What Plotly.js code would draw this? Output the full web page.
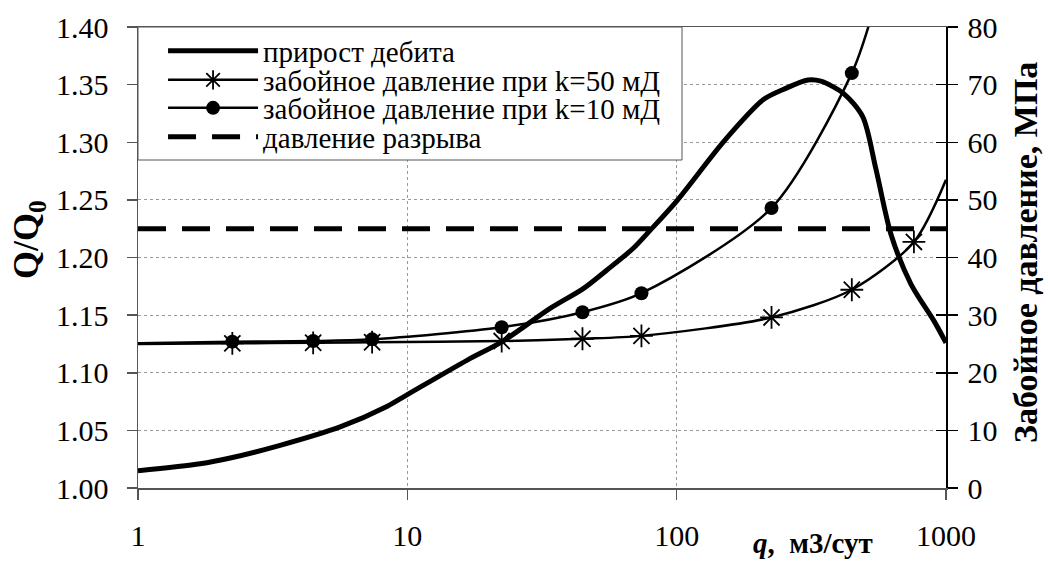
<!DOCTYPE html>
<html>
<head>
<meta charset="utf-8">
<script src="https://cdn.plot.ly/plotly-3.0.1.min.js"></script>
<style>html,body{margin:0;padding:0;background:#fff;}#chart{width:1048px;height:562px;}</style>
</head>
<body>
<div id="chart"></div>
<script>
// прирост дебита (left axis, Q/Q0)
const qGain = [1, 1.7, 2.2, 3.37, 5.63, 8.43, 10, 16.7, 22.5, 34, 45, 55, 69, 80, 100, 150, 210, 250, 307, 343, 418, 491, 549, 625, 741, 902, 1000];
const gain  = [1.015, 1.021, 1.026, 1.037, 1.053, 1.071, 1.081, 1.111, 1.127, 1.156, 1.173, 1.189, 1.208, 1.224, 1.249, 1.301, 1.337, 1.346, 1.354, 1.353, 1.342, 1.322, 1.277, 1.220, 1.177, 1.145, 1.126];
// забойное давление при k=50 мД (right axis, МПа)
const qK50 = [1, 2.24, 4.47, 7.4, 22.4, 44.7, 74, 225, 447, 760, 1000];
const pK50 = [25.0, 25.1, 25.2, 25.3, 25.5, 25.9, 26.4, 29.6, 34.4, 42.7, 53.5];
// забойное давление при k=10 мД
const qK10 = [1, 2.24, 4.47, 7.4, 22.4, 44.7, 74, 225, 447, 530];
const pK10 = [25.1, 25.4, 25.5, 25.8, 27.9, 30.5, 33.8, 48.6, 72.0, 82.0];
// давление разрыва
const qFrac = [1, 1000];
const pFrac = [45, 45];
// tick labels
const xTicks = [1, 10, 100, 1000];
const xTickText = ['1', '10', '100', '1000'];

const FONT = '"Liberation Serif", "Times New Roman", "DejaVu Serif", serif';
const names = ['прирост дебита', 'забойное давление при k=50 мД', 'забойное давление при k=10 мД', 'давление разрыва'];

const traces = [
  {x: qGain, y: gain, yaxis: 'y', mode: 'lines', name: names[0], legend: 'legend',
   line: {color: '#000', width: 5, shape: 'spline', smoothing: 0.8}},
  {x: qK50, y: pK50, yaxis: 'y2', mode: 'lines', showlegend: false,
   line: {color: '#000', width: 2.5, shape: 'spline', smoothing: 0.8}},
  {x: qK50.slice(1, 10), y: pK50.slice(1, 10), yaxis: 'y2', mode: 'markers', showlegend: false,
   marker: {symbol: 'asterisk-open', size: 19, color: '#000', line: {color: '#000', width: 1.8}}},
  {x: [null], y: [null], yaxis: 'y2', mode: 'lines+markers', name: names[1], legend: 'legend2',
   line: {color: '#000', width: 2.5},
   marker: {symbol: 'asterisk-open', size: 19, color: '#000', line: {color: '#000', width: 1.8}}},
  {x: qK10, y: pK10, yaxis: 'y2', mode: 'lines', showlegend: false,
   line: {color: '#000', width: 2.5, shape: 'spline', smoothing: 0.8}},
  {x: qK10.slice(1, 9), y: pK10.slice(1, 9), yaxis: 'y2', mode: 'markers', showlegend: false,
   marker: {symbol: 'circle', size: 14, color: '#000'}},
  {x: [null], y: [null], yaxis: 'y2', mode: 'lines+markers', name: names[2], legend: 'legend3',
   line: {color: '#000', width: 2.5},
   marker: {symbol: 'circle', size: 14, color: '#000'}},
  {x: qFrac, y: pFrac, yaxis: 'y3', mode: 'lines', name: names[3], legend: 'legend4',
   line: {color: '#000', width: 5, dash: '28px,16px'}}
];

function leg(py) {
  return {x: 0.031, y: (488 - py) / 461, xanchor: 'left', yanchor: 'middle',
          bgcolor: 'rgba(0,0,0,0)', borderwidth: 0, itemwidth: 90,
          font: {family: FONT, size: 29, color: '#000'}};
}

const layout = {
  width: 1048, height: 562,
  margin: {l: 138, r: 102, t: 27, b: 74, pad: 0},
  paper_bgcolor: '#fff', plot_bgcolor: '#fff',
  font: {family: FONT, color: '#000'},
  showlegend: true,
  legend: leg(51), legend2: leg(80), legend3: leg(108), legend4: leg(137),
  xaxis: {type: 'log', range: [0, 3], tickvals: xTicks, ticktext: xTickText,
          showgrid: true, gridcolor: '#999', griddash: 'dot', gridwidth: 1,
          showline: true, linecolor: '#555', linewidth: 1.5, mirror: true,
          ticks: 'outside', ticklen: 10, tickcolor: '#555', tickwidth: 1.5,
          tickfont: {family: FONT, size: 30, color: '#000'}, ticklabelstandoff: 10, zeroline: false},
  yaxis: {range: [1.0, 1.4], dtick: 0.05, tick0: 1, tickformat: '.2f',
          showgrid: true, gridcolor: '#999', griddash: 'dot', gridwidth: 1,
          showline: true, linecolor: '#555', linewidth: 1.5,
          ticks: 'outside', ticklen: 10, tickcolor: '#555', tickwidth: 1.5,
          tickfont: {family: FONT, size: 30, color: '#000'}, ticklabelstandoff: 12, zeroline: false},
  yaxis2: {overlaying: 'y', side: 'right', range: [0, 80], dtick: 10, tick0: 0,
           showgrid: false, showline: true, linecolor: '#000', linewidth: 1.5,
           ticks: 'outside', ticklen: 10, tickcolor: '#000', tickwidth: 1.5,
           tickfont: {family: FONT, size: 30, color: '#000'}, ticklabelstandoff: 4, zeroline: false},
  yaxis3: {overlaying: 'y', side: 'right', range: [0, 80], dtick: 10, tick0: 0,
           showgrid: false, showline: false, showticklabels: false,
           ticks: 'inside', ticklen: 10, tickcolor: '#000', tickwidth: 1.5, zeroline: false},
  shapes: [{type: 'rect', xref: 'paper', yref: 'paper', x0: 0, x1: (682 - 138) / 808,
            y0: (488 - 160) / 461, y1: 1, fillcolor: '#fff', line: {color: '#555', width: 1}, layer: 'above'}],
  annotations: [
    {text: '<b>Q/Q<sub>0</sub></b>', xref: 'paper', yref: 'paper', x: (28 - 138) / 808, y: (488 - 239) / 461,
     xanchor: 'center', yanchor: 'middle', textangle: -90, showarrow: false,
     font: {family: FONT, size: 36, color: '#000'}},
    {text: '<b>Забойное давление, МПа</b>', xref: 'paper', yref: 'paper', x: (1026 - 138) / 808, y: (488 - 253) / 461,
     xanchor: 'center', yanchor: 'middle', textangle: -90, showarrow: false,
     font: {family: FONT, size: 34, color: '#000'}},
    {text: '<b><i>q</i>,  м3/сут</b>', xref: 'paper', yref: 'paper', x: (751 - 138) / 808, y: (488 - 543) / 461,
     xanchor: 'left', yanchor: 'middle', showarrow: false,
     font: {family: FONT, size: 29, color: '#000'}}
  ]
};

Plotly.newPlot('chart', traces, layout, {displayModeBar: false, staticPlot: true});
</script>
</body>
</html>
